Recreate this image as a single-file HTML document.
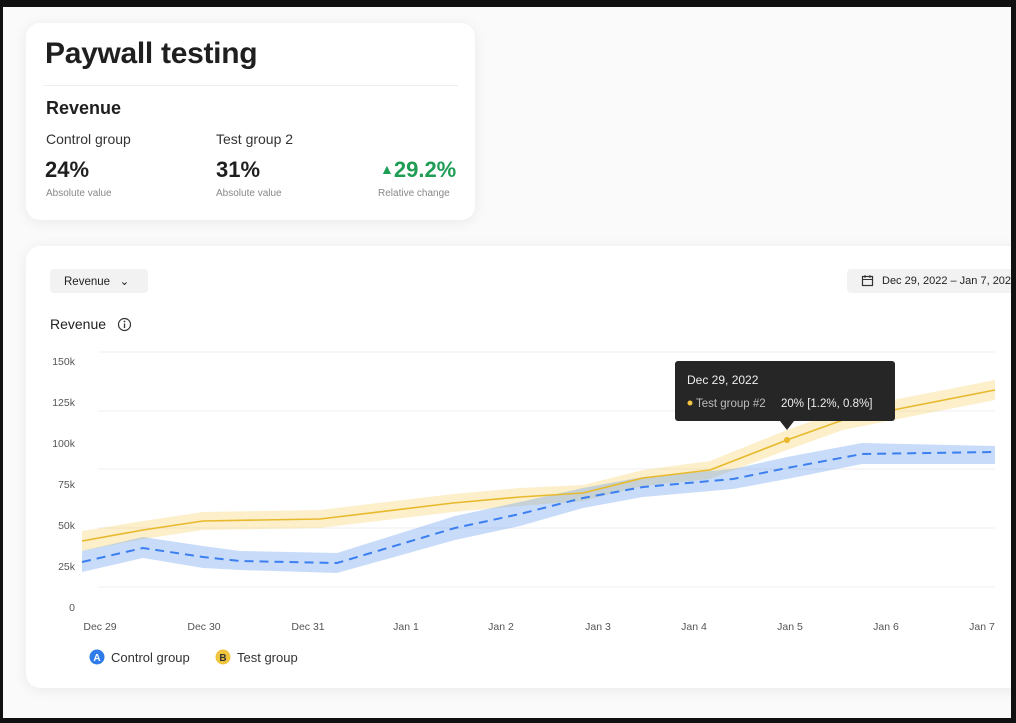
<!DOCTYPE html>
<html><head><meta charset="utf-8"><style>
html,body{margin:0;padding:0}
body{width:1016px;height:723px;background:#111;position:relative;overflow:hidden;font-family:"Liberation Sans",sans-serif;color:#1f1f1f}
.bg{position:absolute;left:3px;top:7px;width:1008px;height:711px;background:#fafafa}
.card{position:absolute;background:#fff;border-radius:14px;box-shadow:0 2px 14px rgba(0,0,0,.07)}
.t{position:absolute;white-space:nowrap}
</style></head><body>
<div class="bg"></div>
<div class="card" style="left:26px;top:23px;width:449px;height:197px"></div>
<div class="t" style="left:45px;top:37px;font-size:30px;font-weight:bold;letter-spacing:-0.3px">Paywall testing</div>
<div style="position:absolute;left:43px;top:85px;width:415px;height:1px;background:#eee"></div>
<div class="t" style="left:46px;top:98px;font-size:18px;font-weight:bold">Revenue</div>
<div class="t" style="left:46px;top:131px;font-size:14px;color:#333">Control group</div>
<div class="t" style="left:216px;top:131px;font-size:14px;color:#333">Test group 2</div>
<div class="t" style="left:45px;top:157px;font-size:22px;font-weight:bold">24%</div>
<div class="t" style="left:216px;top:157px;font-size:22px;font-weight:bold">31%</div>
<div class="t" style="left:380px;top:157px;font-size:22px;font-weight:bold;color:#1f9d55"><span style="font-size:14px;position:relative;top:-3px">▲</span>29.2%</div>
<div class="t" style="left:46px;top:188px;font-size:10px;color:#888">Absolute value</div>
<div class="t" style="left:216px;top:188px;font-size:10px;color:#888">Absolute value</div>
<div class="t" style="left:378px;top:188px;font-size:10px;color:#888">Relative change</div>

<div class="card" style="left:26px;top:246px;width:1010px;height:442px;border-radius:14px 0 0 14px"></div>
<div style="position:absolute;left:50px;top:269px;width:98px;height:24px;background:#f2f2f2;border-radius:4px"></div>
<div class="t" style="left:64px;top:274px;font-size:11.5px;color:#222">Revenue &nbsp;&nbsp;⌄</div>
<div style="position:absolute;left:847px;top:269px;width:170px;height:24px;background:#f2f2f2;border-radius:4px"></div>
<div class="t" style="left:882px;top:275px;font-size:11px;color:#222">Dec 29, 2022 – Jan 7, 2023</div>
<svg style="position:absolute;left:861px;top:274px" width="14" height="14"><rect x="1.5" y="2.5" width="10" height="9" fill="none" stroke="#333" stroke-width="1.2"/><line x1="1.5" y1="5.5" x2="11.5" y2="5.5" stroke="#333"/><line x1="4" y1="1" x2="4" y2="4" stroke="#333"/><line x1="9" y1="1" x2="9" y2="4" stroke="#333"/></svg>
<div class="t" style="left:50px;top:316px;font-size:14px;color:#222">Revenue</div>
<svg style="position:absolute;left:117px;top:317px" width="15" height="15"><circle cx="7.5" cy="7.5" r="6" fill="none" stroke="#333" stroke-width="1.2"/><line x1="7.5" y1="6.5" x2="7.5" y2="11" stroke="#333" stroke-width="1.3"/><circle cx="7.5" cy="4.5" r=".9" fill="#333"/></svg>

<svg style="position:absolute;left:0;top:0" width="1016" height="723">
<g stroke="#efefef" stroke-width="1">
<line x1="98" y1="352" x2="995" y2="352"/><line x1="98" y1="411" x2="995" y2="411"/><line x1="98" y1="469" x2="995" y2="469"/><line x1="98" y1="528" x2="995" y2="528"/><line x1="98" y1="587" x2="995" y2="587"/>
</g>
<g font-family="Liberation Sans" font-size="10.5" fill="#555" text-anchor="end">
<text x="75" y="365">150k</text><text x="75" y="406">125k</text><text x="75" y="447">100k</text><text x="75" y="488">75k</text><text x="75" y="529">50k</text><text x="75" y="570">25k</text><text x="75" y="611">0</text>
</g>
<g font-family="Liberation Sans" font-size="10.5" fill="#555" text-anchor="middle">
<text x="100" y="630">Dec 29</text><text x="204" y="630">Dec 30</text><text x="308" y="630">Dec 31</text><text x="406" y="630">Jan 1</text><text x="501" y="630">Jan 2</text><text x="598" y="630">Jan 3</text><text x="694" y="630">Jan 4</text><text x="790" y="630">Jan 5</text><text x="886" y="630">Jan 6</text><text x="982" y="630">Jan 7</text>
</g>
<polygon fill="#f5c542" opacity="0.28" points="82,531 143,521 203,512 320,510 453,494 520,488 583,485 643,470 710,461 787,430 843,410 893,400 995,380 995,400 893,420 843,430 787,450 710,479 643,486 583,501 520,506 453,512 320,528 203,530 143,539 82,551"/>
<polygon fill="#4a8cf0" opacity="0.3" points="82,551 143,537 203,546 240,551 337,553 455,516 520,502 583,488 643,477 733,469 787,457 862,443 995,446 995,464 862,464 787,479 733,489 643,497 583,508 520,526 455,540 337,573 240,570 203,568 143,558 82,572"/>
<polyline fill="none" stroke="#e8b92c" stroke-width="1.6" points="82,541 143,530 203,521 320,519 453,503 520,497 583,493 643,478 710,470 787,440 843,420 893,410 995,390"/>
<polyline fill="none" stroke="#3b7ff0" stroke-width="2" stroke-dasharray="9,6" points="82,562 143,548 203,557 240,561 337,563 455,528 520,514 583,498 643,487 733,479 787,468 862,454 995,452"/>
<circle cx="787" cy="440" r="3" fill="#e8b92c"/>
<rect x="675" y="361" width="220" height="60" rx="3" fill="#262626"/>
<polygon points="780,421 794,421 787,430" fill="#262626"/>
<text x="687" y="384" font-family="Liberation Sans" font-size="12" fill="#eee">Dec 29, 2022</text>
<circle cx="690" cy="403" r="2.5" fill="#f5c542"/>
<text x="696" y="407" font-family="Liberation Sans" font-size="11.5" fill="#bbb">Test group #2</text>
<text x="781" y="407" font-family="Liberation Sans" font-size="11.5" fill="#eee">20% [1.2%, 0.8%]</text>
<circle cx="97" cy="657" r="7.5" fill="#2f7bea"/><text x="97" y="661" text-anchor="middle" font-family="Liberation Sans" font-size="10" font-weight="bold" fill="#fff">A</text>
<circle cx="223" cy="657" r="7.5" fill="#f0c53e"/><text x="223" y="661" text-anchor="middle" font-family="Liberation Sans" font-size="10" font-weight="bold" fill="#333">B</text>
<text x="111" y="662" font-family="Liberation Sans" font-size="13" fill="#333">Control group</text>
<text x="237" y="662" font-family="Liberation Sans" font-size="13" fill="#333">Test group</text>
</svg>
<div style="position:absolute;left:1011px;top:0;width:5px;height:723px;background:#111"></div>
</body></html>
